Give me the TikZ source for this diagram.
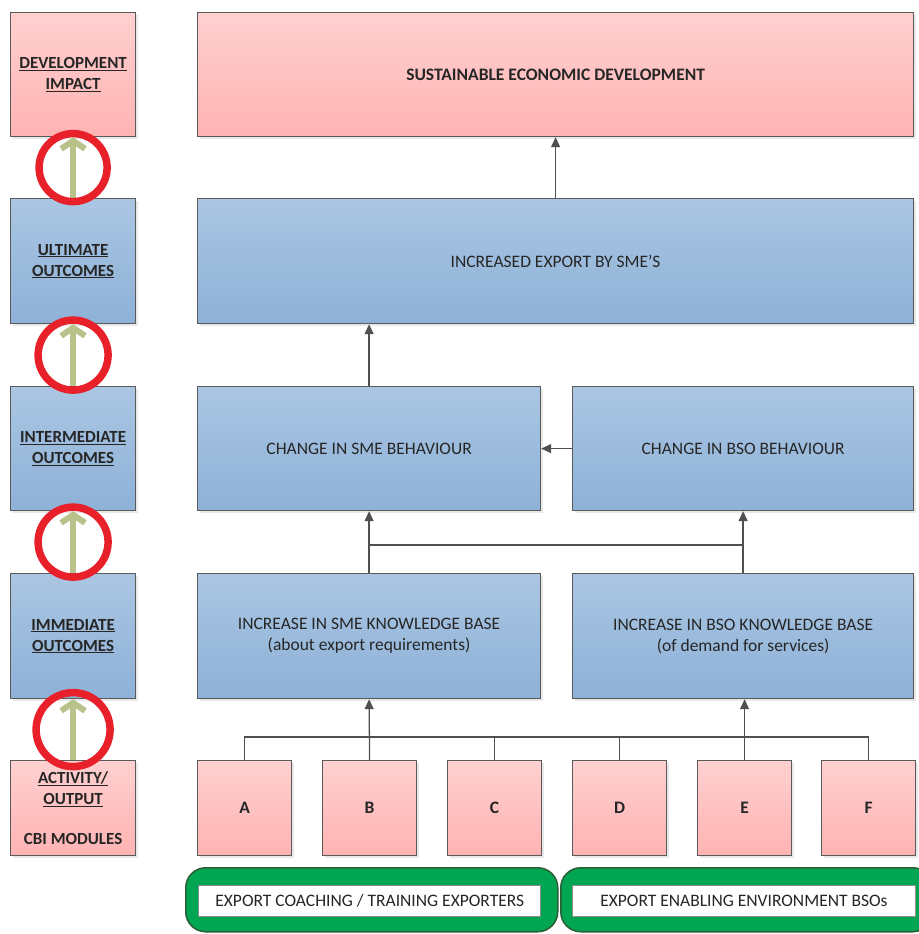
\documentclass[tikz,border=0pt]{standalone}
\usepackage{fontspec}
\setmainfont{Carlito}
\usetikzlibrary{arrows.meta,shadows,calc}

\definecolor{PinkTop}{HTML}{FFD0D0}
\definecolor{PinkBot}{HTML}{FFB3B3}
\definecolor{BlueTop}{HTML}{AAC6E3}
\definecolor{BlueBot}{HTML}{8EB1D7}
\definecolor{BoxEdge}{HTML}{5A5A5A}
\definecolor{RingRed}{HTML}{E8202A}
\definecolor{StemGreen}{HTML}{B7C38A}
\definecolor{FrameGreen}{HTML}{00A651}
\definecolor{FrameEdge}{HTML}{2B5E35}
\definecolor{LinkGray}{HTML}{505050}
\definecolor{TextGray}{HTML}{262626}

\newcommand{\lvlfont}{\fontsize{17}{21}\selectfont\bfseries}
\newcommand{\boxfont}{\fontsize{17.5}{21}\selectfont}
\newcommand{\lvltext}[1]{\underline{#1}}

\tikzset{
  basebox/.style={draw=BoxEdge, line width=1.2pt, anchor=north west, inner sep=2pt,
    align=center, text=TextGray,
    drop shadow={opacity=0.18, shadow xshift=2pt, shadow yshift=-2pt}},
  pinkbox/.style={basebox, top color=PinkTop, bottom color=PinkBot},
  bluebox/.style={basebox, top color=BlueTop, bottom color=BlueBot},
  lvlbox/.style={minimum width=125pt, minimum height=124pt, font=\lvlfont},
  modbox/.style={pinkbox, minimum width=94pt, minimum height=95pt, font=\boxfont\bfseries},
  linkline/.style={draw=LinkGray, line width=1.3pt},
  linkarrow/.style={linkline, -{Triangle[length=10pt, width=9pt]}},
  stemarrow/.style={draw=StemGreen, line width=6pt, -{Straight Barb[length=8pt, width=24pt]}},
  redring/.style={draw=RingRed, line width=7.5pt},
  groupframe/.style={draw=FrameEdge, line width=1.5pt, fill=FrameGreen, rounded corners=20pt,
    anchor=north west},
  grouplabel/.style={draw=BoxEdge!70, line width=0.8pt, fill=white, font=\boxfont,
    text=TextGray, minimum height=31pt, inner sep=1pt}
}

\begin{document}
\begin{tikzpicture}[x=1pt, y=-1pt]
\useasboundingbox (0,0) rectangle (918,934);

% _____ Levels (left column)
\node[pinkbox, lvlbox] (devimp) at (10,12)
  {\lvltext{DEVELOPMENT}\\\lvltext{IMPACT}};
\node[bluebox, lvlbox, minimum height=125pt] (ultout) at (10,198)
  {\lvltext{ULTIMATE}\\\lvltext{OUTCOMES}};
\node[bluebox, lvlbox] (intout) at (10,386)
  {\lvltext{INTERMEDIATE}\\\lvltext{OUTCOMES}};
\node[bluebox, lvlbox, minimum height=125pt] (immout) at (10,573)
  {\lvltext{IMMEDIATE}\\\lvltext{OUTCOMES}};
\node[pinkbox, lvlbox, minimum height=95pt] (actout) at (10,760)
  {\lvltext{ACTIVITY/}\\\lvltext{OUTPUT}\\[19pt]CBI MODULES};

% _____ Level arrows and rings
\draw[stemarrow] (ultout.north) -- (devimp.south);
\draw[stemarrow] (intout.north) -- (ultout.south);
\draw[stemarrow] (immout.north) -- (intout.south);
\draw[stemarrow] (actout.north) -- (immout.south);

\draw[redring] ($(ultout.north)!0.5!(devimp.south)$) circle[radius=34pt];
\draw[redring] ($(intout.north)!0.5!(ultout.south)$) circle[radius=35pt];
\draw[redring] ($(immout.north)!0.5!(intout.south)$) circle[radius=35pt];
\draw[redring] ($(actout.north)!0.5!(immout.south)$) circle[radius=37pt];

% _____ Results chain (right)
\node[pinkbox, minimum width=716pt, minimum height=124pt, font=\boxfont\bfseries] (sed) at (197,12)
  {SUSTAINABLE ECONOMIC DEVELOPMENT};
\node[bluebox, minimum width=716pt, minimum height=125pt, font=\boxfont] (incexp) at (197,198)
  {INCREASED EXPORT BY SME'S};
\node[bluebox, minimum width=343pt, minimum height=124pt, font=\boxfont] (chsme) at (197,386)
  {CHANGE IN SME BEHAVIOUR};
\node[bluebox, minimum width=341pt, minimum height=124pt, font=\boxfont] (chbso) at (572,386)
  {CHANGE IN BSO BEHAVIOUR};
\node[bluebox, minimum width=343pt, minimum height=125pt, font=\boxfont] (kbsme) at (197,573)
  {INCREASE IN SME KNOWLEDGE BASE\\(about export requirements)};
\node[bluebox, minimum width=341pt, minimum height=125pt, font=\boxfont] (kbbso) at (572,573)
  {INCREASE IN BSO KNOWLEDGE BASE\\(of demand for services)};

% _____ CBI modules
\node[modbox] (modA) at (197,760) {A};
\node[modbox] (modB) at (322,760) {B};
\node[modbox] (modC) at (447,760) {C};
\node[modbox] (modD) at (572,760) {D};
\node[modbox] (modE) at (697,760) {E};
\node[modbox] (modF) at (821,760) {F};

% _____ Links
\draw[linkarrow] (incexp.north) -- (sed.south);
\draw[linkarrow] (chsme.north) -- (chsme.north |- incexp.south);
\draw[linkarrow] (chbso.west) -- (chsme.east);

\coordinate (kbjoin) at ($(kbsme.north)+(0,-28)$);
\draw[linkarrow] (kbsme.north) -- (chsme.south);
\draw[linkarrow] (kbbso.north) -- (kbbso.north |- chbso.south);
\draw[linkline] (kbjoin) -- (kbjoin -| kbbso.north);

\draw[linkline] (modA.north) -- ++(0,-23) -| (modF.north);
\draw[linkline] (modC.north) -- ++(0,-23);
\draw[linkline] (modD.north) -- ++(0,-23);
\draw[linkarrow] (modB.north) -- (kbsme.south);
\draw[linkarrow] (modE.north) -- (modE.north |- kbbso.south);

% _____ Programme groups
\node[groupframe, minimum width=372pt, minimum height=64pt] (coachframe) at (185,867) {};
\node[grouplabel, minimum width=342pt] (coach) at ($(coachframe.center)+(-2,1)$)
  {EXPORT COACHING / TRAINING EXPORTERS};
\node[groupframe, minimum width=372pt, minimum height=64pt] (enableframe) at (560,867) {};
\node[grouplabel, minimum width=343pt, anchor=west] (enable) at ($(enableframe.west)+(12,1)$)
  {EXPORT ENABLING ENVIRONMENT BSOs};

\end{tikzpicture}
\end{document}
